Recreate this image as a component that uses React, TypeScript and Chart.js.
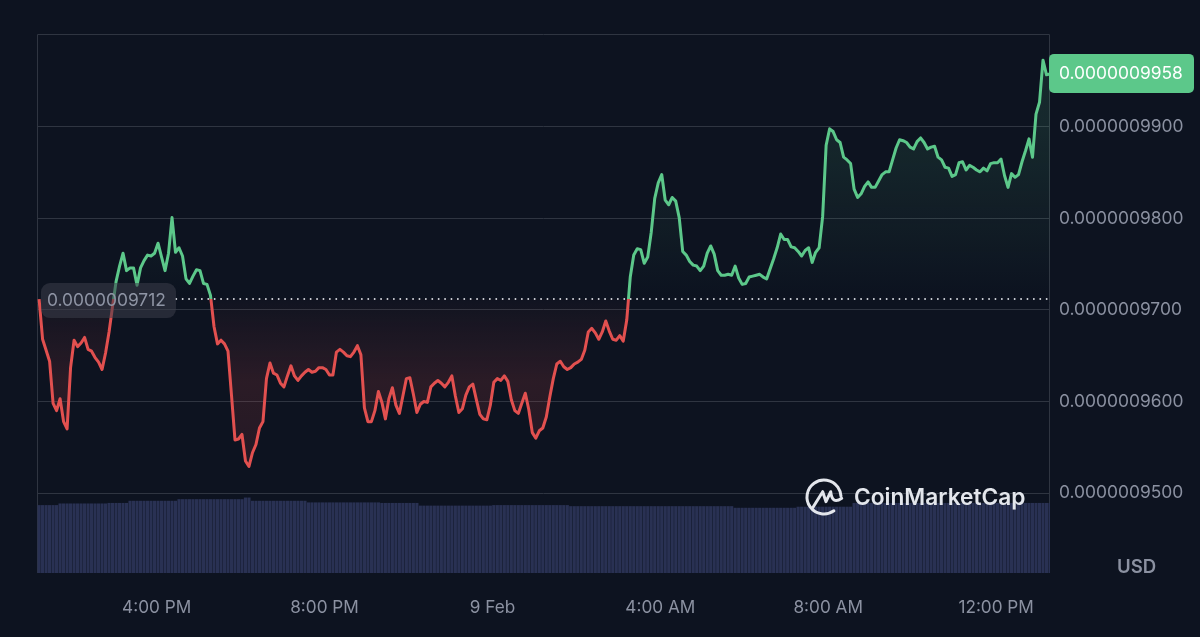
import { useEffect, useRef } from 'react';
import { Chart, registerables } from 'chart.js';

Chart.register(...registerables);

// prices are in units of 1e-10 USD, one reading every five minutes
const prices = [
  9712, 9668, 9656, 9644, 9598, 9590, 9603, 9578, 9570, 9637, 9667, 9660, 9664, 9670, 9657, 9655, 9648, 9643, 9635, 9653,
  9676, 9704, 9731, 9748, 9762, 9743, 9746, 9746, 9727, 9746, 9754, 9760, 9759, 9762, 9773, 9758, 9743, 9762, 9801, 9763,
  9768, 9759, 9734, 9729, 9737, 9744, 9743, 9729, 9728, 9716, 9682, 9663, 9667, 9663, 9655, 9607, 9558, 9559, 9564, 9535,
  9529, 9544, 9553, 9571, 9578, 9625, 9642, 9631, 9629, 9620, 9616, 9628, 9639, 9628, 9623, 9628, 9632, 9635, 9632, 9633,
  9637, 9637, 9635, 9629, 9629, 9654, 9657, 9654, 9650, 9649, 9654, 9661, 9651, 9593, 9578, 9578, 9590, 9611, 9599, 9581,
  9603, 9615, 9596, 9587, 9606, 9625, 9626, 9608, 9588, 9597, 9600, 9599, 9616, 9620, 9623, 9620, 9616, 9621, 9628, 9606,
  9588, 9592, 9607, 9616, 9619, 9602, 9586, 9581, 9580, 9596, 9621, 9625, 9623, 9628, 9622, 9602, 9590, 9587, 9598, 9609,
  9591, 9566, 9560, 9568, 9571, 9583, 9605, 9625, 9641, 9644, 9638, 9635, 9637, 9641, 9643, 9646, 9656, 9676, 9680, 9675,
  9668, 9676, 9688, 9677, 9668, 9667, 9672, 9666, 9689, 9736, 9760, 9767, 9766, 9751, 9758, 9785, 9822, 9839, 9848, 9820,
  9815, 9823, 9819, 9801, 9764, 9760, 9753, 9749, 9748, 9743, 9748, 9762, 9770, 9761, 9743, 9738, 9738, 9739, 9738, 9748,
  9735, 9728, 9729, 9736, 9737, 9738, 9739, 9736, 9734, 9745, 9756, 9768, 9783, 9777, 9777, 9769, 9768, 9764, 9759, 9765,
  9768, 9752, 9763, 9768, 9802, 9880, 9898, 9895, 9886, 9883, 9867, 9864, 9860, 9832, 9823, 9827, 9835, 9840, 9834, 9834,
  9841, 9848, 9851, 9851, 9864, 9877, 9886, 9885, 9883, 9878, 9876, 9884, 9888, 9883, 9876, 9878, 9879, 9867, 9864, 9856,
  9855, 9846, 9848, 9861, 9862, 9853, 9858, 9856, 9853, 9851, 9855, 9852, 9860, 9861, 9861, 9865, 9847, 9834, 9849, 9845,
  9848, 9862, 9874, 9887, 9867, 9914, 9927, 9973, 9957, 9958,
];

// traded volume per reading, arbitrary units
const volumes = [
  126, 126, 126, 126, 126, 126,
  129, 129, 129, 129, 129, 129, 129, 129, 129, 129, 129, 129, 129, 129,
  130, 130, 130, 130, 130, 130,
  134, 134, 134, 134, 134, 134, 134, 134, 134, 134, 134, 134, 134, 134,
  137, 137, 137, 137, 137, 137, 137, 137, 137, 137, 137, 137, 137, 137, 137, 137, 137, 137, 137,
  140, 140,
  134, 134, 134, 134, 134, 134, 134, 134, 134, 134, 134, 134, 134, 134, 134, 134,
  131, 131, 131, 131, 131, 131, 131, 131, 131, 131, 131, 131, 131, 131, 131, 131, 131, 131, 131, 131, 131,
  130, 130, 130, 130, 130, 130, 130, 130, 130, 130, 130,
  125, 125, 125, 125, 125, 125, 125, 125, 125, 125, 125, 125, 125, 125, 125, 125, 125, 125, 125, 125, 125,
  126, 126, 126, 126, 126, 126, 126, 126, 126, 126, 126, 126, 126, 126, 126, 126, 126, 126, 126, 126, 126, 126,
  124, 124, 124, 124, 124, 124, 124, 124, 124, 124, 124, 124, 124, 124, 124, 124, 124, 124, 124, 124, 124, 124, 124, 124,
  124, 124, 124, 124, 124, 124, 124, 124, 124, 124, 124, 124, 124, 124, 124, 124, 124, 124, 124, 124, 124, 124, 124,
  121, 121, 121, 121, 121, 121, 121, 121, 121, 121, 121, 121, 121, 121, 121, 121, 121, 121,
  123, 123, 123, 123, 123, 123, 123, 123, 123, 123, 123, 123, 123, 123, 123, 123,
  130, 130, 130, 130, 130, 130, 130, 130, 130, 130, 130, 130, 130, 130, 130, 130, 130, 130, 130, 130,
  130, 130, 130, 130, 130, 130, 130, 130, 130, 130, 130, 130, 130, 130, 130, 130, 130, 130, 130, 130,
  130, 130, 130, 130, 130, 130, 130, 130, 130, 130, 130, 130, 130, 130, 130, 130, 130,
];

const baselinePrice = 9712;
const lastPrice = 9958;
const priceTicks = [9500, 9600, 9700, 9800, 9900];

// minutes since midnight on 8 Feb
const startMinute = 792;
const stepMinutes = 5;
const timeTicks = [960, 1200, 1440, 1680, 1920, 2160];
const timeLabels = ['4:00 PM', '8:00 PM', '9 Feb', '4:00 AM', '8:00 AM', '12:00 PM'];

const BG = '#0d1320';
const GRID = '#2f3541';
const MUTED = '#8b91a1';
const GREEN = '#5cc88a';
const RED = '#e2504f';
const FONT = 'Inter, "Noto Sans", sans-serif';

const priceLabel = (v: number) => '0.000000' + v;

const gradientsPlugin = {
  id: 'gradients',
  afterLayout(chart: any) {
    const { ctx, chartArea, scales } = chart;
    const base = scales.y.getPixelForValue(baselinePrice);
    const stop = (base - chartArea.top) / (chartArea.bottom - chartArea.top);

    const line = ctx.createLinearGradient(0, chartArea.top, 0, chartArea.bottom);
    line.addColorStop(0, GREEN);
    line.addColorStop(stop, GREEN);
    line.addColorStop(stop, RED);
    line.addColorStop(1, RED);

    const above = ctx.createLinearGradient(0, base, 0, scales.y.getPixelForValue(9900));
    above.addColorStop(0, 'rgba(92,200,138,0)');
    above.addColorStop(1, 'rgba(92,200,138,0.12)');

    const below = ctx.createLinearGradient(0, base, 0, scales.y.getPixelForValue(9530));
    below.addColorStop(0, 'rgba(226,80,79,0.02)');
    below.addColorStop(0.5, 'rgba(226,80,79,0.14)');
    below.addColorStop(1, 'rgba(226,80,79,0.11)');

    const ds = chart.data.datasets[0];
    ds.borderColor = line;
    ds.fill = { target: { value: baselinePrice }, above, below };
  },
};

const overlayPlugin = {
  id: 'overlay',
  beforeDatasetsDraw(chart: any) {
    const { ctx, chartArea: a } = chart;
    ctx.save();
    ctx.strokeStyle = GRID;
    ctx.lineWidth = 1;
    ctx.beginPath();
    ctx.moveTo(a.left + 0.5, a.bottom);
    ctx.lineTo(a.left + 0.5, a.top + 0.5);
    ctx.lineTo(a.right - 0.5, a.top + 0.5);
    ctx.lineTo(a.right - 0.5, a.bottom);
    ctx.stroke();
    ctx.restore();
  },
  afterDraw(chart: any) {
    const { ctx, scales } = chart;
    ctx.save();
    ctx.textBaseline = 'middle';
    ctx.textAlign = 'left';
    ctx.font = `17.4px ${FONT}`;

    // opening price pill
    const baseY = scales.y.getPixelForValue(baselinePrice);
    ctx.fillStyle = 'rgba(60,62,74,0.55)';
    ctx.beginPath();
    ctx.roundRect(41, baseY - 16, 135, 35, 9);
    ctx.fill();
    ctx.fillStyle = '#8f95a5';
    ctx.fillText(priceLabel(baselinePrice), 47, baseY + 2);

    // last price badge
    const lastY = scales.y.getPixelForValue(lastPrice);
    ctx.fillStyle = GREEN;
    ctx.beginPath();
    ctx.roundRect(1049, lastY - 20, 145, 39, 5);
    ctx.fill();
    ctx.fillStyle = '#ffffff';
    ctx.fillText(priceLabel(lastPrice), 1059, lastY);

    ctx.fillStyle = MUTED;
    ctx.font = `600 18.6px ${FONT}`;
    ctx.fillText('USD', 1117, 567);

    // watermark
    ctx.strokeStyle = '#e3e6ec';
    ctx.lineWidth = 3;
    ctx.lineCap = 'round';
    ctx.lineJoin = 'round';
    ctx.beginPath();
    ctx.arc(824, 497, 17, 0.95, Math.PI * 2 - 0.05);
    ctx.stroke();
    ctx.beginPath();
    ctx.moveTo(812.7, 507.7);
    ctx.lineTo(822.7, 491.7);
    ctx.lineTo(826, 501.7);
    ctx.lineTo(830.7, 491.7);
    ctx.quadraticCurveTo(832, 505, 841.7, 498.3);
    ctx.stroke();
    ctx.fillStyle = '#e3e6ec';
    ctx.font = `600 22.7px ${FONT}`;
    ctx.fillText('CoinMarketCap', 854, 498);
    ctx.restore();
  },
};

export default function App() {
  const canvasRef = useRef<HTMLCanvasElement>(null);

  useEffect(() => {
    if (!canvasRef.current) return;
    const times = prices.map((_, i) => startMinute + i * stepMinutes);

    const chart = new Chart(canvasRef.current, {
      type: 'line',
      data: {
        datasets: [
          {
            type: 'line',
            data: prices.map((p, i) => ({ x: times[i], y: p })),
            borderWidth: 3,
            pointRadius: 0,
            tension: 0,
            borderJoinStyle: 'round',
            order: 1,
          },
          {
            type: 'line',
            data: [
              { x: 988, y: baselinePrice },
              { x: 2237, y: baselinePrice },
            ],
            borderColor: '#d4d7dd',
            borderWidth: 1.8,
            borderDash: [0.1, 6.3],
            borderCapStyle: 'round',
            pointRadius: 0,
            fill: false,
            order: 2,
          },
          {
            type: 'bar',
            data: volumes.map((v, i) => ({ x: times[i], y: v })),
            yAxisID: 'vol',
            backgroundColor: '#293153',
            barPercentage: 0.9,
            categoryPercentage: 1,
            order: 3,
          },
        ],
      } as any,
      plugins: [gradientsPlugin, overlayPlugin],
      options: {
        animation: false,
        responsive: false,
        layout: { padding: { left: 37, top: 34, right: 0, bottom: 0 } },
        plugins: { legend: { display: false }, tooltip: { enabled: false } },
        scales: {
          x: {
            type: 'linear',
            min: 789,
            max: 2237,
            offset: false,
            grid: { display: false, drawTicks: false },
            border: { display: false },
            afterBuildTicks: (axis: any) => {
              axis.ticks = timeTicks.map(value => ({ value }));
            },
            afterFit: (axis: any) => {
              axis.height = 64;
            },
            ticks: {
              color: MUTED,
              font: { family: FONT, size: 17.2 },
              padding: 25,
              maxRotation: 0,
              autoSkip: false,
              callback: (v: any) => timeLabels[timeTicks.indexOf(v)],
            },
          },
          y: {
            position: 'right',
            min: 9412.6,
            max: 10001.6,
            grid: { color: GRID, drawTicks: false },
            border: { display: false },
            afterBuildTicks: (axis: any) => {
              axis.ticks = priceTicks.map(value => ({ value }));
            },
            afterFit: (axis: any) => {
              axis.width = 150;
            },
            ticks: {
              color: MUTED,
              font: { family: FONT, size: 17.4 },
              padding: 9,
              crossAlign: 'near',
              callback: (v: any) => priceLabel(v),
            },
          },
          vol: {
            display: false,
            min: 0,
            max: 1000,
          },
        },
      } as any,
    });

    return () => chart.destroy();
  }, []);

  return (
    <div style={{ position: 'fixed', inset: 0, background: BG }}>
      <canvas ref={canvasRef} width={1200} height={637} style={{ display: 'block' }}></canvas>
    </div>
  );
}
